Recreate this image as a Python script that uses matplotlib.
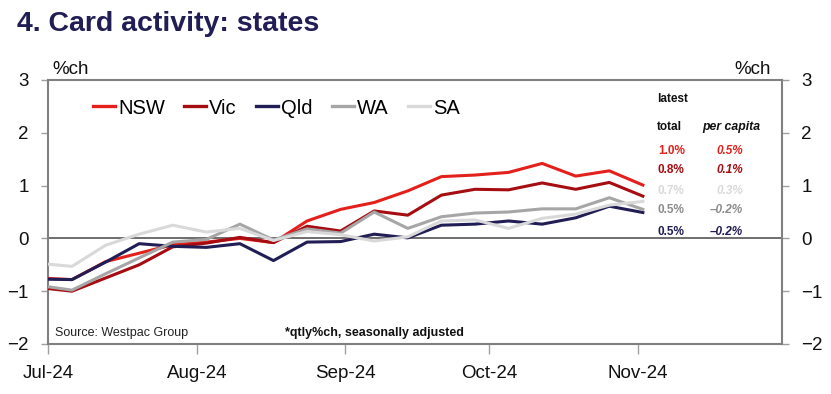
import datetime as dt
import matplotlib
matplotlib.use("Agg")
from matplotlib import pyplot as plt
import matplotlib.dates as mdates

plt.rcParams['font.family'] = ['Liberation Sans', 'DejaVu Sans']

# weekly observations (week ending Saturday)
dates = [dt.date(2024, 6, 29) + dt.timedelta(days=7 * i) for i in range(19)]
nsw = [-0.75, -0.78, -0.44, -0.28, -0.12, -0.07, 0.00, -0.08, 0.33, 0.55,
       0.68, 0.90, 1.17, 1.20, 1.25, 1.42, 1.18, 1.28, 1.01]
vic = [-0.93, -1.00, -0.75, -0.50, -0.16, -0.09, 0.02, -0.08, 0.23, 0.14,
       0.52, 0.44, 0.82, 0.93, 0.92, 1.05, 0.93, 1.06, 0.80]
qld = [-0.77, -0.78, -0.45, -0.10, -0.15, -0.17, -0.10, -0.42, -0.07, -0.06,
       0.08, 0.01, 0.25, 0.27, 0.33, 0.27, 0.39, 0.61, 0.49]
wa = [-0.89, -0.98, -0.67, -0.37, -0.07, -0.02, 0.27, -0.03, 0.18, 0.10,
      0.50, 0.19, 0.41, 0.48, 0.50, 0.56, 0.56, 0.77, 0.55]
sa = [-0.47, -0.53, -0.13, 0.08, 0.25, 0.12, 0.19, -0.04, 0.13, 0.07,
      -0.05, 0.03, 0.33, 0.35, 0.19, 0.38, 0.46, 0.63, 0.70]

names = ['NSW', 'Vic', 'Qld', 'WA', 'SA']
series = [nsw, vic, qld, wa, sa]
colors = ['#e3201b', '#a50d12', '#211d55', '#a6a6a6', '#d9d9d9']

# latest table: order as shown on the chart
tbl_names = ['NSW', 'Vic', 'SA', 'WA', 'Qld']
tbl_total = ['1.0%', '0.8%', '0.7%', '0.5%', '0.5%']
tbl_percap = ['0.5%', '0.1%', '0.3%', '–0.2%', '–0.2%']

W, H = 831, 394
fig = plt.figure(figsize=(W / 100, H / 100), dpi=100)
ax = fig.add_axes([48 / W, 1 - 344 / H, (782 - 48) / W, (344 - 80) / H])

ax.axhline(0, color='#555555', lw=1.2, zorder=1)
for name, vals, c in zip(names, series, colors):
    ax.plot(dates, vals, color=c, lw=2.2, label=name, zorder=3)

ax.set_xlim(dt.date(2024, 7, 1), dt.date(2024, 12, 1))
ax.set_ylim(-2, 3)
ax.set_yticks([-2, -1, 0, 1, 2, 3])
ax.xaxis.set_major_locator(mdates.MonthLocator(bymonth=[7, 8, 9, 10, 11]))
ax.xaxis.set_major_formatter(mdates.DateFormatter('%b-%y'))

for s in ax.spines.values():
    s.set_color('#808080')
    s.set_linewidth(1.5)

ax.tick_params(axis='y', which='both', left=True, right=True, labelleft=True,
               labelright=True, direction='out', length=5, width=1,
               color='#a0a0a0', labelsize=13.5, pad=9)
ax.tick_params(axis='x', direction='out', length=7, width=1, color='#a0a0a0',
               labelsize=13.5, pad=8)
ax.tick_params(axis='both', labelcolor='#111111')

leg = ax.legend(loc='center left', bbox_to_anchor=((93 - 48) / 734, (344 - 108) / 264),
                ncol=5, frameon=False, fontsize=14.5, handlelength=1.1,
                handletextpad=0.15, columnspacing=0.95, borderpad=0, borderaxespad=0)
for line in leg.get_lines():
    line.set_linewidth(2.4)

def ft(x, y, s, **kw):
    fig.text(x / W, 1 - y / H, s, va='center', **kw)

ft(17, 24, '4. Card activity: states', fontsize=20.5, fontweight='bold', color='#211d55')
ft(52, 69, '%ch', fontsize=13.5, color='#111111')
ft(771, 69, '%ch', fontsize=13.5, color='#111111', ha='right')
ft(55, 333, 'Source: Westpac Group', fontsize=9, color='#222222')
ft(285, 333, '*qtly%ch, seasonally adjusted', fontsize=9, fontweight='bold', color='#111111')

ft(657, 99, 'latest', fontsize=8.5, fontweight='bold', color='#111111')
ft(657, 127, 'total', fontsize=8.5, fontweight='bold', color='#111111')
ft(702, 127, 'per capita', fontsize=8.8, fontweight='bold', style='italic', color='#111111')
row_y = [151, 170, 191, 210, 232]
tbl_colors = {n: c for n, c in zip(names, colors)}
tbl_colors['WA'] = '#8c8c8c'
for n, t, p, y in zip(tbl_names, tbl_total, tbl_percap, row_y):
    c = tbl_colors[n]
    ft(658, y, t, fontsize=8.5, fontweight='bold', color=c)
    ft(743, y, p, fontsize=8.5, fontweight='bold', style='italic', color=c, ha='right')

fig.savefig('out.png', dpi=100)
